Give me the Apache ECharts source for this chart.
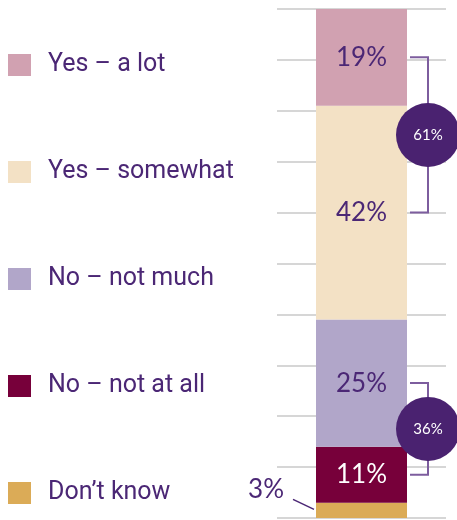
<!DOCTYPE html>
<html>
<head>
<meta charset="utf-8">
<script src="https://cdn.jsdelivr.net/npm/echarts@6/dist/echarts.min.js"></script>
<style>
  html, body { margin: 0; padding: 0; background: #ffffff; }
  #chart { width: 457px; height: 520px; }
</style>
</head>
<body>
<div id="chart"></div>
<script>
// Answer categories, listed top to bottom as they appear in the stacked bar
const categories = ['Yes – a lot', 'Yes – somewhat', 'No – not much', 'No – not at all', 'Don’t know'];
const values = [19, 42, 25, 11, 3];
const colors = ['#d1a1b1', '#f3e1c5', '#b1a6c9', '#77003a', '#dbab57'];
const labelColors = ['#4b2775', '#4b2775', '#4b2775', '#ffffff', '#4b2775'];
// Value-axis ticks (percent)
const axisMin = 0;
const axisMax = 100;
const axisStep = 10;
// Bracketed totals: indices into categories
const groupYes = [0, 1];
const groupNo = [2, 3];

const purple = '#4b2775';
const bracketColor = '#7d5d9e';
const circleColor = '#4a2270';
const barWidth = 91;
const valueFont = 'Lato, "Open Sans", sans-serif';

const chart = echarts.init(document.getElementById('chart'), null, { renderer: 'canvas' });

// Stack from the bottom up: last category first
const order = categories.map((_, i) => i).reverse();
const series = order.map(i => {
  const small = values[i] < 5;
  return {
    name: categories[i],
    type: 'bar',
    stack: 'total',
    barWidth: barWidth,
    data: [values[i]],
    itemStyle: { color: colors[i] },
    emphasis: { disabled: true },
    label: {
      show: true,
      position: small ? 'left' : 'inside',
      distance: small ? 32 : 5,
      offset: small ? [0, -21] : [0, 0],
      formatter: '{c}%',
      color: small ? purple : labelColors[i],
      fontFamily: valueFont,
      fontWeight: 400,
      fontSize: 26
    }
  };
});

chart.setOption({
  animation: false,
  grid: { left: 277, right: 11, top: 9, bottom: 2 },
  legend: {
    orient: 'vertical',
    left: 8,
    top: 52,
    padding: 0,
    itemGap: 81,
    itemWidth: 23,
    itemHeight: 22,
    icon: 'rect',
    selectedMode: false,
    data: categories,
    textStyle: {
      color: purple,
      fontFamily: 'Roboto, "Liberation Sans", sans-serif',
      fontSize: 25,
      lineHeight: 26,
      padding: [0, 0, 0, 12]
    }
  },
  xAxis: {
    type: 'category',
    data: ['Share'],
    show: false
  },
  yAxis: {
    type: 'value',
    min: axisMin,
    max: axisMax,
    interval: axisStep,
    axisLine: { show: false },
    axisTick: { show: false },
    axisLabel: { show: false },
    splitLine: { lineStyle: { color: '#d6d6d6', width: 2 } }
  },
  series: series
});

// Cumulative position (from the bottom) of each category's segment
const bottoms = [];
let acc = 0;
order.forEach(i => { bottoms[i] = acc; acc += values[i]; });
const centerVal = i => bottoms[i] + values[i] / 2;

const px = v => chart.convertToPixel({ gridIndex: 0 }, [0, v]);
const barCenterX = px(0)[0];
const barRight = barCenterX + barWidth / 2;
const barLeft = barCenterX - barWidth / 2;

function bracket(members) {
  const yTop = px(centerVal(members[0]))[1];
  const yBot = px(centerVal(members[members.length - 1]))[1];
  const x0 = barRight + 3;
  const x1 = barRight + 21;
  const total = members.reduce((s, i) => s + values[i], 0);
  const cy = (yTop + yBot) / 2;
  return [
    {
      type: 'polyline',
      shape: { points: [[x0, yTop], [x1, yTop], [x1, yBot], [x0, yBot]] },
      style: { stroke: bracketColor, lineWidth: 2, fill: null },
      z: 10
    },
    {
      type: 'circle',
      shape: { cx: x1, cy: cy, r: 32 },
      style: { fill: circleColor },
      z: 11
    },
    {
      type: 'text',
      x: x1,
      y: cy,
      style: {
        text: total + '%',
        fill: '#ffffff',
        font: '400 15px ' + valueFont,
        align: 'center',
        verticalAlign: 'middle'
      },
      z: 12
    }
  ];
}

// Leader line for the thin bottom segment label
const smallIdx = values.findIndex(v => v < 5);
const smallY = px(centerVal(smallIdx))[1];
const leader = {
  type: 'line',
  shape: { x1: barLeft - 23, y1: smallY - 11, x2: barLeft - 2, y2: smallY - 1 },
  style: { stroke: purple, lineWidth: 1.5 },
  z: 10
};

chart.setOption({
  graphic: [].concat(bracket(groupYes), bracket(groupNo), [leader])
});
</script>
</body>
</html>
